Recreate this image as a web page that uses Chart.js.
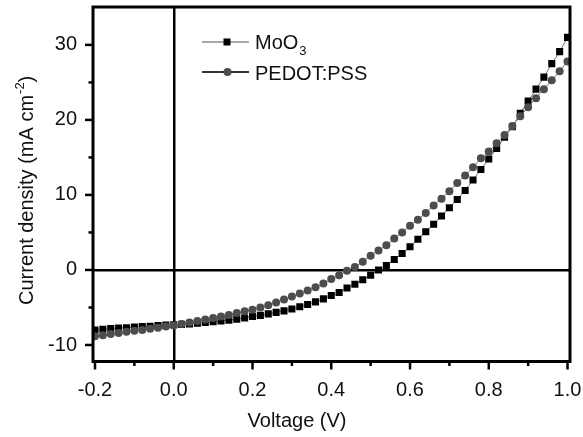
<!DOCTYPE html>
<html>
<head>
<meta charset="utf-8">
<script src="https://cdn.jsdelivr.net/npm/chart.js@4.4.1/dist/chart.umd.min.js"></script>
<style>
  html, body { margin: 0; padding: 0; background: #fff; }
  #wrap { width: 583px; height: 437px; }
</style>
</head>
<body>
<div id="wrap"><canvas id="c" width="583" height="437"></canvas></div>
<script>
// ---- data ----
const voltage = [-0.20,-0.18,-0.16,-0.14,-0.12,-0.10,-0.08,-0.06,-0.04,-0.02,0.00,
                 0.02,0.04,0.06,0.08,0.10,0.12,0.14,0.16,0.18,0.20,
                 0.22,0.24,0.26,0.28,0.30,0.32,0.34,0.36,0.38,0.40,
                 0.42,0.44,0.46,0.48,0.50,0.52,0.54,0.56,0.58,0.60,
                 0.62,0.64,0.66,0.68,0.70,0.72,0.74,0.76,0.78,0.80,
                 0.82,0.84,0.86,0.88,0.90,0.92,0.94,0.96,0.98,1.00];
const moo3 = [-8.0,-7.9,-7.8,-7.75,-7.7,-7.6,-7.55,-7.5,-7.4,-7.35,-7.3,
              -7.25,-7.2,-7.1,-7.0,-6.9,-6.8,-6.7,-6.55,-6.4,-6.2,
              -6.05,-5.85,-5.65,-5.45,-5.2,-4.9,-4.6,-4.25,-3.85,-3.4,
              -3.0,-2.4,-1.9,-1.3,-0.7,0.0,0.6,1.4,2.2,3.1,
              4.1,5.1,6.1,7.2,8.3,9.4,10.6,12.0,13.4,14.8,
              16.2,17.7,19.1,20.9,22.5,24.1,25.7,27.5,29.1,31.0];
const pedot = [-8.85,-8.7,-8.55,-8.4,-8.25,-8.1,-8.0,-7.85,-7.7,-7.55,-7.4,
               -7.2,-7.0,-6.8,-6.6,-6.4,-6.2,-6.0,-5.75,-5.5,-5.3,
               -5.0,-4.7,-4.35,-3.95,-3.55,-3.15,-2.75,-2.3,-1.8,-1.2,
               -0.7,-0.1,0.4,1.1,1.9,2.6,3.3,4.2,5.0,5.9,
               6.7,7.6,8.6,9.5,10.5,11.6,12.6,13.7,14.9,15.8,
               16.9,18.0,19.2,20.5,21.7,22.9,24.1,25.3,26.5,27.8];
const seriesNames = ['MoO', 'PEDOT:PSS'];
const xTickValues = [-0.2,-0.1,0.0,0.1,0.2,0.3,0.4,0.5,0.6,0.7,0.8,0.9,1.0];
const xTickLabels = ['-0.2','','0.0','','0.2','','0.4','','0.6','','0.8','','1.0'];
const yTickValues = [-10,-5,0,5,10,15,20,25,30];
const yTickLabels = ['-10','','0','','10','','20','','30'];
const xTitle = 'Voltage (V)';
const yTitle = 'Current density (mA cm';

const FONT = '"Liberation Sans", Arial, sans-serif';

const framePlugin = {
  id: 'frame',
  afterDraw(chart) {
    const ctx = chart.ctx, a = chart.chartArea;
    const xs = chart.scales.x, ys = chart.scales.y;
    ctx.save();
    // frame
    ctx.strokeStyle = '#000';
    ctx.lineWidth = 3;
    ctx.strokeRect(a.left, a.top, a.right - a.left, a.bottom - a.top);
    // ticks
    ctx.lineWidth = 2.5;
    xTickValues.forEach((v, i) => {
      const px = xs.getPixelForValue(v);
      const len = xTickLabels[i] ? 8 : 4.5;
      ctx.beginPath(); ctx.moveTo(px, a.bottom); ctx.lineTo(px, a.bottom + len); ctx.stroke();
    });
    yTickValues.forEach((v, i) => {
      const py = ys.getPixelForValue(v);
      const len = yTickLabels[i] ? 8 : 4.5;
      ctx.beginPath(); ctx.moveTo(a.left, py); ctx.lineTo(a.left - len, py); ctx.stroke();
    });
    // axis titles
    ctx.fillStyle = '#111';
    ctx.font = '20px ' + FONT;
    ctx.textAlign = 'center';
    ctx.textBaseline = 'alphabetic';
    ctx.fillText(xTitle, 297, 427);
    ctx.save();
    ctx.translate(33, 305);
    ctx.rotate(-Math.PI / 2);
    ctx.textAlign = 'left';
    ctx.fillText(yTitle, 0, 0);
    let w = ctx.measureText(yTitle).width;
    ctx.font = '13px ' + FONT;
    ctx.fillText('-2', w + 1, -9);
    w += ctx.measureText('-2').width + 1;
    ctx.font = '20px ' + FONT;
    ctx.fillText(')', w, 0);
    ctx.restore();
    // legend
    const rows = [
      {y: 42, ds: chart.data.datasets[0], textY: 48.5},
      {y: 72, ds: chart.data.datasets[1], textY: 79.5}
    ];
    rows.forEach((r, i) => {
      ctx.strokeStyle = i === 0 ? '#555' : '#333';
      ctx.lineWidth = i === 0 ? 1.2 : 2;
      ctx.beginPath(); ctx.moveTo(202, r.y); ctx.lineTo(249, r.y); ctx.stroke();
      ctx.fillStyle = r.ds.pointBackgroundColor;
      if (i === 0) {
        ctx.fillRect(223.5, r.y - 3.5, 7, 7);
      } else {
        ctx.beginPath(); ctx.arc(227.5, r.y, 4, 0, Math.PI * 2); ctx.fill();
      }
      ctx.fillStyle = '#111';
      ctx.textAlign = 'left';
      ctx.font = '20px ' + FONT;
      ctx.fillText(seriesNames[i], 255, r.textY);
      if (i === 0) {
        const mw = ctx.measureText(seriesNames[i]).width;
        ctx.font = '13px ' + FONT;
        ctx.fillText('3', 255 + mw + 1, r.textY + 6);
      }
    });
    ctx.restore();
  }
};

const zeroColor = (ctx) => (ctx.tick && ctx.tick.value === 0) ? '#000' : 'rgba(0,0,0,0)';

new Chart(document.getElementById('c'), {
  type: 'line',
  data: {
    datasets: [
      {
        label: 'MoO3',
        data: voltage.map((v, i) => ({x: v, y: moo3[i]})),
        borderColor: '#777',
        borderWidth: 1,
        pointStyle: 'rect',
        pointRadius: 5,
        pointBorderWidth: 0,
        pointBackgroundColor: '#000',
        pointHoverRadius: 5,
        tension: 0,
        order: 2
      },
      {
        label: 'PEDOT:PSS',
        data: voltage.map((v, i) => ({x: v, y: pedot[i]})),
        borderColor: '#777',
        borderWidth: 1,
        pointStyle: 'circle',
        pointRadius: 4,
        pointBorderWidth: 0,
        pointBackgroundColor: '#4d4d4d',
        pointHoverRadius: 4,
        tension: 0,
        order: 1
      }
    ]
  },
  options: {
    responsive: false,
    animation: false,
    devicePixelRatio: 1,
    layout: { padding: { left: 0, top: 7, right: 13, bottom: 0 } },
    plugins: { legend: { display: false }, tooltip: { enabled: false } },
    scales: {
      x: {
        type: 'linear',
        min: -0.2051,
        max: 1.0063,
        afterFit(scale) { scale.height = 75.5; scale.paddingLeft = 0; scale.paddingRight = 0; },
        afterBuildTicks(scale) { scale.ticks = xTickValues.map(v => ({value: v})); },
        border: { display: false },
        grid: { drawTicks: false, drawOnChartArea: true, color: zeroColor, lineWidth: 2.5 },
        ticks: {
          autoSkip: false,
          maxRotation: 0,
          padding: 17,
          color: '#111',
          font: { family: FONT, size: 20 },
          callback: (v, i) => xTickLabels[i]
        }
      },
      y: {
        type: 'linear',
        min: -12.2,
        max: 35.05,
        afterFit(scale) { scale.width = 93; scale.paddingTop = 0; scale.paddingBottom = 0; },
        afterBuildTicks(scale) { scale.ticks = yTickValues.map(v => ({value: v})); },
        border: { display: false },
        grid: { drawTicks: false, drawOnChartArea: true, color: zeroColor, lineWidth: 2.5 },
        ticks: {
          autoSkip: false,
          padding: 16,
          color: '#111',
          font: { family: FONT, size: 20 },
          callback: (v, i) => yTickLabels[i]
        }
      }
    }
  },
  plugins: [framePlugin]
});
</script>
</body>
</html>
